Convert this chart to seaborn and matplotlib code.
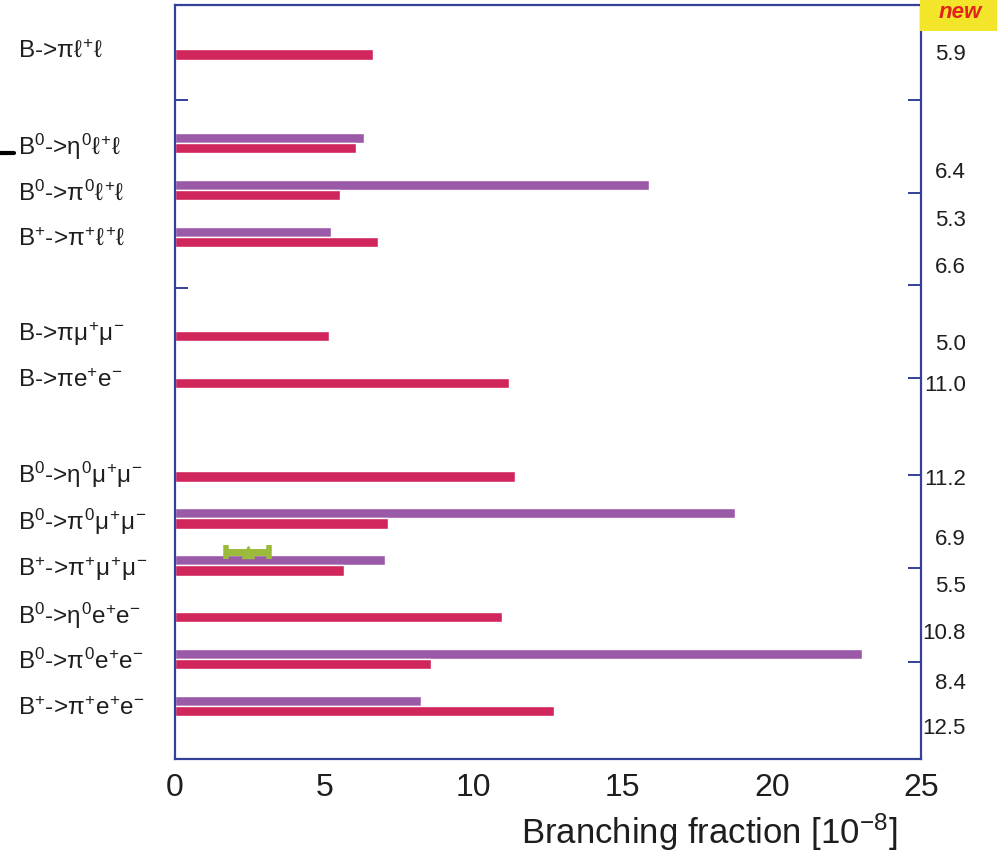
import numpy as np
import pandas as pd
import matplotlib
matplotlib.use("Agg")
import matplotlib.pyplot as plt
from matplotlib.lines import Line2D
from matplotlib.patches import Rectangle
import seaborn as sns

# ---------------- data ----------------
categories = [
    r"B->$\pi\ell^{+}\ell$",
    r"B$^{0}$->$\eta^{0}\ell^{+}\ell$",
    r"B$^{0}$->$\pi^{0}\ell^{+}\ell$",
    r"B$^{+}$->$\pi^{+}\ell^{+}\ell$",
    r"B->$\pi\mu^{+}\mu^{-}$",
    r"B->$\pi$e$^{+}$e$^{-}$",
    r"B$^{0}$->$\eta^{0}\mu^{+}\mu^{-}$",
    r"B$^{0}$->$\pi^{0}\mu^{+}\mu^{-}$",
    r"B$^{+}$->$\pi^{+}\mu^{+}\mu^{-}$",
    r"B$^{0}$->$\eta^{0}$e$^{+}$e$^{-}$",
    r"B$^{0}$->$\pi^{0}$e$^{+}$e$^{-}$",
    r"B$^{+}$->$\pi^{+}$e$^{+}$e$^{-}$",
]
# group sizes (a blank row separates the groups)
group_sizes = [1, 3, 2, 6]

# previous limits (purple) -- None where absent
purple_values = [None, 6.33, 15.88, 5.23, None, None, None, 18.77, 7.04, None, 23.02, 8.24]
# new limits (red)
red_values = [6.64, 6.07, 5.53, 6.80, 5.16, 11.19, 11.39, 7.14, 5.66, 10.96, 8.58, 12.70]

# numbers written at the right of the frame
right_numbers = ["5.9", "6.4", "5.3", "6.6", "5.0", "11.0", "11.2", "6.9", "5.5", "10.8", "8.4", "12.5"]
right_number_pos = [0.12, 2.62, 3.66, 4.66, 6.30, 7.16, 9.18, 10.46, 11.46, 12.46, 13.53, 14.47]

# green measurement (B+ -> pi+ mu+ mu-)
green_center = 2.45
green_low = 1.70
green_high = 3.15

x_ticks = [0, 5, 10, 15, 20, 25]

# ---------------- style ----------------
sns.set_theme(style="white")
plt.rcParams["font.family"] = ["Liberation Sans", "DejaVu Sans"]
plt.rcParams["mathtext.fontset"] = "custom"
plt.rcParams["mathtext.rm"] = "Liberation Sans"
plt.rcParams["mathtext.it"] = "Liberation Sans"
plt.rcParams["mathtext.bf"] = "Liberation Sans:bold"

NAVY = "#34409a"
PURPLE = "#9b5aa8"
RED = "#d0265c"
GREEN = "#9dbb3a"
TXT = "#1e1e1e"

# build order with blank spacer categories
order = []
idx = 0
for g, n in enumerate(group_sizes):
    if g > 0:
        order.append(" " * g)
    order.extend(categories[idx: idx + n])
    idx += n

rows = []
for c, p, r in zip(categories, purple_values, red_values):
    if p is not None:
        rows.append({"cat": c, "series": "old", "value": p})
    rows.append({"cat": c, "series": "new", "value": r})
df = pd.DataFrame(rows)

fig = plt.figure(figsize=(9.97, 8.59), dpi=100)
ax = fig.add_axes([175 / 997, 1 - 759 / 859, 746 / 997, 754 / 859])

sns.barplot(data=df, x="value", y="cat", hue="series", order=order,
            hue_order=["old", "new"], palette={"old": PURPLE, "new": RED},
            orient="h", dodge=True, width=0.44, gap=0.0, legend=False,
            saturation=1, ax=ax, errorbar=None)

ax.set_xlim(0, 25)
ax.set_ylim(15.13, -0.942)

# green marker with error bar
gpos = order.index(categories[8]) - 0.29
ax.errorbar([green_center], [gpos],
            xerr=[[green_center - green_low], [green_high - green_center]],
            fmt="^", ms=9, color=GREEN, ecolor=GREEN, elinewidth=5,
            capsize=5, capthick=4, zorder=5)

# spines
for s in ax.spines.values():
    s.set_color(NAVY)
    s.set_linewidth(1.6)

ax.set_xticks(x_ticks)
ax.set_xticklabels([str(t) for t in x_ticks], fontsize=23, color=TXT)
ax.tick_params(axis="x", direction="in", length=9.5, width=1.4, color=NAVY, pad=10)

ax.set_yticks(range(len(order)))
ax.set_yticklabels([o if o.strip() else "" for o in order], fontsize=17.5, color=TXT)
ax.tick_params(axis="y", which="major", length=0, pad=113)
for lab in ax.get_yticklabels():
    lab.set_ha("left")
ax.set_yticks([1.083, 5.09], minor=True)
ax.tick_params(axis="y", which="minor", direction="in", length=9.5, width=1.4, color=NAVY, left=True)

ax.set_xlabel("")
ax.set_ylabel("")

# right-hand ticks
ax2 = ax.twinx()
ax2.set_ylim(ax.get_ylim())
ax2.set_yticks([1.083, 3.065, 5.026, 7.008, 9.075, 11.06, 13.06])
ax2.set_yticklabels([])
ax2.tick_params(axis="y", direction="in", length=9.5, width=1.4, color=NAVY)
for s in ax2.spines.values():
    s.set_visible(False)

# right numbers
tr = matplotlib.transforms.blended_transform_factory(ax.transAxes, ax.transData)
for t, p in zip(right_numbers, right_number_pos):
    ax.text((966 - 175) / 746, p, t, transform=tr, ha="right",
            va="center", fontsize=16, color=TXT, clip_on=False)

# x axis title
fig.text(897 / 997, 1 - 832 / 859, r"Branching fraction [10$^{-8}$]",
         ha="right", va="center", fontsize=25, color=TXT)

# "new" badge top right
fig.patches.append(Rectangle((920 / 997, 1 - 31 / 859), 77 / 997, 31 / 859,
                             transform=fig.transFigure, facecolor="#f3e62a",
                             edgecolor="none", zorder=0))
fig.text(960 / 997, 1 - 13 / 859, "new", ha="center", va="center", fontsize=16,
         fontweight="bold", fontstyle="italic", color="#e0241c")

# small black stub on the left edge
fig.add_artist(Line2D([0, 14 / 997], [1 - 153 / 859, 1 - 153 / 859],
                      transform=fig.transFigure, color="black", lw=3))

fig.savefig("out.png", dpi=100)
